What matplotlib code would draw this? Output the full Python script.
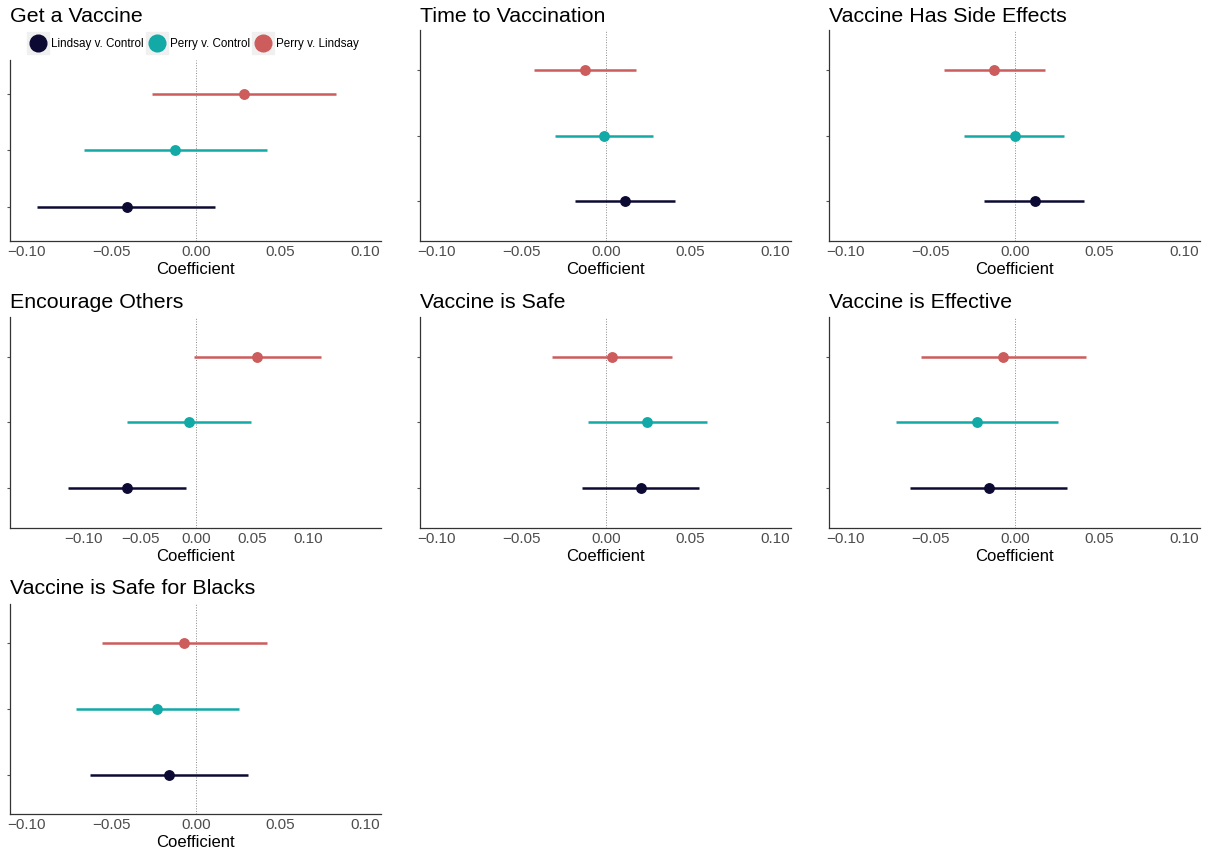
import numpy as np
import matplotlib.pyplot as plt
from matplotlib.lines import Line2D

plt.rcParams['font.family'] = ['Liberation Sans', 'DejaVu Sans']

outcomes = ['Get a Vaccine', 'Time to Vaccination', 'Vaccine Has Side Effects',
            'Encourage Others', 'Vaccine is Safe', 'Vaccine is Effective',
            'Vaccine is Safe for Blacks']
comparisons = ['Lindsay v. Control', 'Perry v. Control', 'Perry v. Lindsay']
colors = ['#0c0a33', '#12a9a6', '#cd5c5c']

# estimates, per outcome: [Lindsay v. Control, Perry v. Control, Perry v. Lindsay]
est = [[-0.041, -0.0124, 0.0284],
       [0.011, -0.001, -0.0124],
       [0.012, 0.0, -0.0124],
       [-0.0616, -0.006, 0.0545],
       [0.0207, 0.0243, 0.0036],
       [-0.0154, -0.0225, -0.0071],
       [-0.016, -0.023, -0.0071]]
lo = [[-0.094, -0.066, -0.026],
      [-0.018, -0.030, -0.0426],
      [-0.018, -0.030, -0.042],
      [-0.114, -0.0616, -0.002],
      [-0.0142, -0.0107, -0.032],
      [-0.062, -0.0704, -0.0556],
      [-0.0627, -0.071, -0.0556]]
hi = [[0.011, 0.042, 0.083],
      [0.041, 0.028, 0.0178],
      [0.041, 0.029, 0.018],
      [-0.009, 0.049, 0.1116],
      [0.055, 0.060, 0.039],
      [0.0308, 0.0254, 0.042],
      [0.0308, 0.0254, 0.042]]

W, H = 1217, 855
fig = plt.figure(figsize=(W / 100, H / 100), dpi=100)

cols = [(10, 381), (420, 791), (829, 1200)]
rows = [(30, 241), (317, 528), (604, 814)]
title_y = [16, 302, 589]

for i, name in enumerate(outcomes):
    r, c = divmod(i, 3)
    x0, x1 = cols[c]
    top, bot = rows[r]
    if i == 0:
        top = 60
    ax = fig.add_axes([x0 / W, 1 - bot / H, (x1 - x0) / W, (bot - top) / H])
    ax.axvline(0, color='#888888', lw=0.7, ls=':', zorder=0)
    for k in range(3):
        ax.plot([lo[i][k], hi[i][k]], [k + 1, k + 1], color=colors[k], lw=1.8,
                solid_capstyle='butt')
        ax.plot(est[i][k], k + 1, 'o', color=colors[k], ms=6.8)
    ax.set_ylim(0.4, 3.6)
    if name == 'Encourage Others':
        ax.set_xlim(-0.166, 0.165)
    else:
        ax.set_xlim(-0.11, 0.1095)
    ax.set_xticks([-0.10, -0.05, 0.0, 0.05, 0.10])
    ax.set_xticklabels(['\u22120.10', '\u22120.05', '0.00', '0.05', '0.10'])
    ax.set_yticks([1, 2, 3])
    ax.set_yticklabels([])
    ax.tick_params(axis='x', length=0, labelsize=11, labelcolor='#4d4d4d', pad=3)
    ax.tick_params(axis='y', length=2.5, color='#555555')
    for s in ['top', 'right']:
        ax.spines[s].set_visible(False)
    for s in ['left', 'bottom']:
        ax.spines[s].set_color('#333333')
        ax.spines[s].set_linewidth(0.9)
    ax.set_xlabel('Coefficient', fontsize=12, labelpad=2)
    fig.text(x0 / W, 1 - title_y[r] / H, name, fontsize=15.4, va='center', ha='left')

handles = []
for k in range(3):
    bg = Line2D([], [], marker='s', ls='', ms=16, color='#f0f0f0')
    dot = Line2D([], [], marker='o', ls='', ms=12, color=colors[k])
    handles.append((bg, dot))
fig.legend(handles, comparisons, ncol=3, loc='center left',
           bbox_to_anchor=(27 / W, 1 - 44 / H), frameon=False, fontsize=8.4,
           handlelength=1.9, handletextpad=0.15, columnspacing=0.2,
           borderaxespad=0, borderpad=0)

fig.savefig('out.png', dpi=100)
